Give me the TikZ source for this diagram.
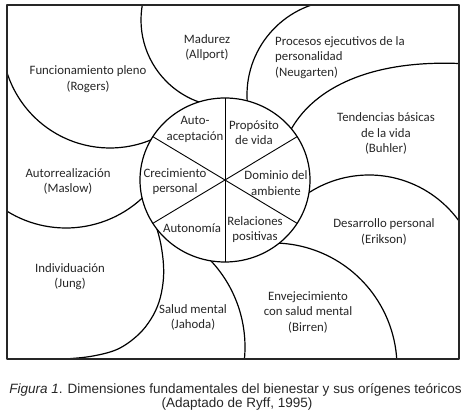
\documentclass[tikz,border=0pt]{standalone}
\usepackage{fontspec}
\setmainfont{Carlito}
\newfontfamily\capfont{Liberation Sans}
\usetikzlibrary{shapes.geometric}
\begin{document}
\begin{tikzpicture}[x=1pt,y=-1pt,line join=round,
  arcline/.style={line width=1.2pt, black},
  spoke/.style={line width=0.9pt, black},
  lbl/.style={font=\fontsize{12.8}{15.5}\selectfont, align=center, inner sep=0pt, text=black!85},
  lbll/.style={font=\fontsize{12.8}{15.5}\selectfont, align=left, inner sep=0pt, text=black!85},
  captext/.style={font=\capfont\fontsize{13.5}{16}\selectfont, inner sep=0pt, text=black!85}]
\useasboundingbox (0,0) rectangle (466,419);
\begin{scope}
\clip (7,5) rectangle (459,359);
% Rogers
\draw[arcline] (110,40) ++(190:108pt) arc[start angle=190, end angle=300, radius=108pt];
% Allport
\draw[arcline] (228,20) ++(165:87pt) arc[start angle=165, end angle=258, radius=87pt];
% Neugarten
\draw[arcline] (342,95) ++(190:95pt) arc[start angle=190, end angle=100, radius=95pt];
% Buhler
\draw[arcline] (289.2,132.6) -- (291.7,128.3) .. controls (315,88) and (370,60) .. (459,63.5) -- (466,63.7);
% Erikson
\draw[arcline] (369,286) ++(125:111pt) arc[start angle=125, end angle=30, radius=111pt];
% Birren
\draw[arcline] (273,367) ++(95:124pt) arc[start angle=95, end angle=-5, radius=124pt];
% Jahoda
\draw[arcline] (119,347) ++(47:126pt) arc[start angle=47, end angle=-12, radius=126pt];
% Jung
\draw[arcline] plot[smooth, tension=0.6] coordinates {(154,221) (157,229) (161,245) (163.5,265) (163,283) (159,302) (151,319) (138,335) (118,349) (93,356) (66,359) (40,361)};
% Maslow
\draw[arcline] (66,116) ++(232:112pt) arc[start angle=232, end angle=318, radius=112pt];
\end{scope}
\node[ellipse, draw, fill=white, line width=1.2pt, minimum width=170pt, minimum height=164pt, inner sep=0pt, outer sep=0pt] (C) at (225,180) {};
\draw[spoke] (C.90) -- (C.270);
\draw[spoke] (C.31) -- (C.211);
\draw[spoke] (C.149) -- (C.329);
% inner labels
\node[lbl] (a1) at (195,129.5) {Auto-\\aceptación};
\node[lbl] (a2) at (254,132.5) {Propósito\\de vida};
\node[lbl] (a3) at (276,183) {Dominio del\\ambiente};
\node[lbl] (a4) at (175,181.5) {Crecimiento\\personal};
\node[lbl] (a5) at (192,228) {Autonomía};
\node[lbl] (a6) at (255,229.5) {Relaciones\\positivas};
% outer labels
\node[lbl] (b1) at (207,47.5) {Madurez\\(Allport)};
\node[lbl] (b2) at (88,79) {Funcionamiento pleno\\(Rogers)};
\node[lbll, anchor=west] (b3) at (275,57.5) {Procesos ejecutivos de la\\personalidad\\(Neugarten)};
\node[lbl] (b4) at (386,133.5) {Tendencias básicas\\de la vida\\(Buhler)};
\node[lbl] (b5) at (384,232) {Desarrollo personal\\(Erikson)};
\node[lbl] (b6) at (308,312) {Envejecimiento\\con salud mental\\(Birren)};
\node[lbl] (b7) at (193,317.5) {Salud mental\\(Jahoda)};
\node[lbl] (b8) at (70,276.5) {Individuación\\(Jung)};
\node[lbl] (b9) at (68,181.5) {Autorrealización\\(Maslow)};
% frame
\draw[line width=1.8pt, black!85] (7,5) rectangle (459,359);
% caption
\node[captext] (cap1) at (235.5,390) {\textit{Figura 1}. Dimensiones fundamentales del bienestar y sus orígenes teóricos};
\node[captext] (cap2) at (237,404.5) {(Adaptado de Ryff, 1995)};
\end{tikzpicture}
\end{document}
